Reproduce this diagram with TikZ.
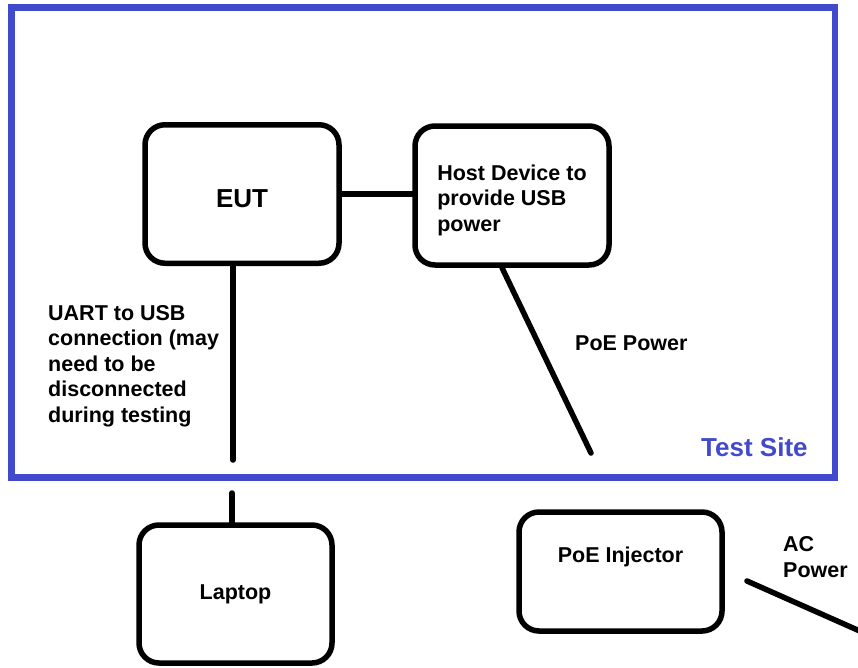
\documentclass[tikz,border=0pt]{standalone}
\usepackage{fontspec}
\setmainfont{Liberation Sans}
\definecolor{SiteBlue}{RGB}{66,74,204}
\colorlet{ColourFrame}{SiteBlue}
\colorlet{ColourLine}{black}

\begin{document}
\begin{tikzpicture}[
  x=1pt, y=-1pt,
  unit/.style={draw=ColourLine, line width=5.5pt, rounded corners=20pt, inner sep=0pt,
    font=\bfseries\fontsize{21.5}{25.5}\selectfont},
  note/.style={inner sep=0pt, align=left, font=\bfseries\fontsize{21.5}{25.5}\selectfont},
  wire/.style={ColourLine, line width=5.5pt, line cap=round},
]

  \useasboundingbox (0,0) rectangle (858,667);

  % test site frame
  \draw[ColourFrame, line width=6.5pt] (11.5,7.5) rectangle (835,477.5);
  \node[note, anchor=west, text=ColourFrame, font=\bfseries\fontsize{26}{30}\selectfont]
    (site) at (701,447) {Test Site};

  \node[unit, minimum width=194pt, minimum height=138.5pt, text height=27pt,
    font=\bfseries\fontsize{26}{30}\selectfont] (eut) at (242,194) {EUT};
  \node[unit, minimum width=194pt, minimum height=139pt, align=left, text height=76pt]
    (host) at (512,195.5) {Host Device to\\provide USB\\power};
  \node[unit, minimum width=193pt, minimum height=138pt] (laptop) at (235.5,594) {Laptop};
  \node[unit, minimum width=203pt, minimum height=119pt] (inj) at (620.5,571.5) {};
  \node[note] (injname) at ([yshift=15pt]inj.center) {PoE Injector};

  \node[note, anchor=west] (uart) at (48,366)
    {UART to USB\\connection (may\\need to be\\disconnected\\during testing};
  \node[note, anchor=west] (poe) at (575,343) {PoE Power};
  \node[note, anchor=west] (ac) at (783,557) {AC\\Power};

  \coordinate (uartend) at (233,460);
  \coordinate (laptopend) at (232,493);
  \coordinate (poeend) at (591,453);
  \coordinate (acstart) at (747,581);
  \coordinate (acend) at (862,632);

  \draw[wire] (eut.east) -- (eut.east -| host.west);
  \draw[wire] (eut.south -| uartend) -- (uartend);
  \draw[wire] (laptopend) -- (laptop.north -| laptopend);
  \draw[wire] ([xshift=-10pt]host.south) -- (poeend);
  \draw[wire] (acstart) -- (acend);

\end{tikzpicture}
\end{document}
